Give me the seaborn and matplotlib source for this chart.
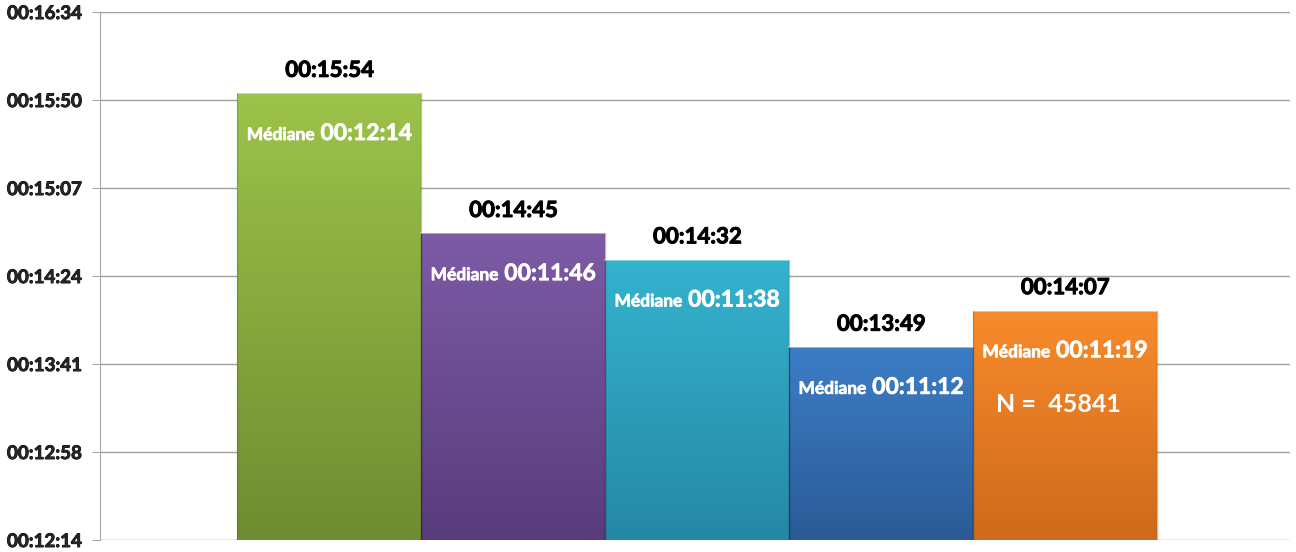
import numpy as np
import pandas as pd
import matplotlib
matplotlib.use('Agg')
import matplotlib.pyplot as plt
import matplotlib.patheffects as pe
import seaborn as sns
from matplotlib.colors import LinearSegmentedColormap
from matplotlib.offsetbox import TextArea, HPacker, AnnotationBbox

# -----------------------------
# data (durées en hh:mm:ss)
series = ['A', 'B', 'C', 'D', 'E']
mean_times = ['00:15:54', '00:14:45', '00:14:32', '00:13:49', '00:14:07']
median_times = ['00:12:14', '00:11:46', '00:11:38', '00:11:12', '00:11:19']
n_total = '45841'
tick_labels = ['00:12:14', '00:12:58', '00:13:41', '00:14:24', '00:15:07', '00:15:50', '00:16:34']

top_colors = ['#9dc34a', '#7d5ba6', '#35b3cf', '#3d7dc6', '#f88b2b']
bottom_colors = ['#6f8c31', '#583c7c', '#2588a4', '#2b5b96', '#cf6a1c']


def to_sec(s):
    h, m, sec = s.split(':')
    return int(h) * 3600 + int(m) * 60 + int(sec)


df = pd.DataFrame({'grp': [''] * len(series), 'serie': series,
                   'value': [to_sec(t) for t in mean_times]})

ymin = to_sec(tick_labels[0])
ymax = to_sec(tick_labels[-1])
yticks = np.linspace(ymin, ymax, len(tick_labels))

sns.set_style('white')
plt.rcParams['font.family'] = ['Lato', 'DejaVu Sans']

fig = plt.figure(figsize=(12.96, 5.52), dpi=100)
ax = fig.add_axes([0.0772, 0.0217, 0.9178, 0.9565])

sns.barplot(data=df, x='grp', y='value', hue='serie', palette=top_colors,
            width=0.773, gap=0, legend=False, ax=ax, edgecolor='none', zorder=3)

thick_dark = [pe.withStroke(linewidth=0.7, foreground='black')]
thick_white = [pe.withStroke(linewidth=0.5, foreground='white')]

# dégradé vertical dans chaque barre
bars = [p for p in ax.patches]
for i, p in enumerate(bars):
    x0, y0 = p.get_x(), ymin
    w, h = p.get_width(), p.get_height()
    cmap = LinearSegmentedColormap.from_list('g%d' % i, [bottom_colors[i], top_colors[i]])
    grad = np.linspace(0, 1, 256).reshape(-1, 1)
    im = ax.imshow(grad, extent=[x0, x0 + w, y0, h], origin='lower',
                   aspect='auto', cmap=cmap, zorder=3)
    im.set_clip_path(p)
    # bordure / biseau
    ax.plot([x0, x0 + w], [h, h], color='white', alpha=0.45, lw=1.5, zorder=4)
    ax.plot([x0, x0], [y0, h], color='#000000', alpha=0.15, lw=1, zorder=4)
    ax.plot([x0 + w, x0 + w], [y0, h], color='#000000', alpha=0.25, lw=1, zorder=4)

    cx = x0 + w / 2
    # valeur moyenne au-dessus
    ax.annotate(mean_times[i], (cx, h), xytext=(0, 16.5), textcoords='offset points',
                ha='center', va='center', fontsize=16, fontweight='bold',
                color='black', zorder=5, path_effects=thick_dark)
    # médiane dans la barre
    pack = HPacker(children=[
        TextArea('Médiane', textprops=dict(color='white', fontsize=12.5, fontweight='bold',
                                           path_effects=thick_white)),
        TextArea(median_times[i], textprops=dict(color='white', fontsize=16.5, fontweight='bold',
                                                 path_effects=thick_white))],
        align='baseline', pad=0, sep=4)
    ab = AnnotationBbox(pack, (cx, h), xybox=(0, -29), xycoords='data',
                        boxcoords='offset points', frameon=False,
                        box_alignment=(0.5, 0.5), zorder=6)
    ax.add_artist(ab)

# N total dans la dernière barre
last = bars[-1]
ax.annotate('N =  ' + n_total, (last.get_x() + last.get_width() / 2, last.get_height()),
            xytext=(-5, -68), textcoords='offset points', ha='center', va='center',
            fontsize=18, fontweight='bold', color='white', zorder=6)

ax.set_xlim(-0.502, 0.498)
ax.set_ylim(ymin, ymax)
ax.set_yticks(yticks)
ax.set_yticklabels(tick_labels, fontsize=13.5, fontweight='bold')
for t in ax.get_yticklabels():
    t.set_path_effects([pe.withStroke(linewidth=0.6, foreground='black')])
ax.set_xticks([])
ax.set_xlabel('')
ax.set_ylabel('')

for yt in yticks:
    ax.axhline(yt, color='#a0a0a0', lw=1, zorder=1)

for s in ['top', 'right', 'bottom']:
    ax.spines[s].set_visible(False)
ax.spines['left'].set_color('#a6a6a6')
ax.spines['left'].set_zorder(2)
ax.tick_params(axis='y', length=6, color='#a6a6a6', left=True, pad=7)

fig.savefig('out.png', dpi=100)
